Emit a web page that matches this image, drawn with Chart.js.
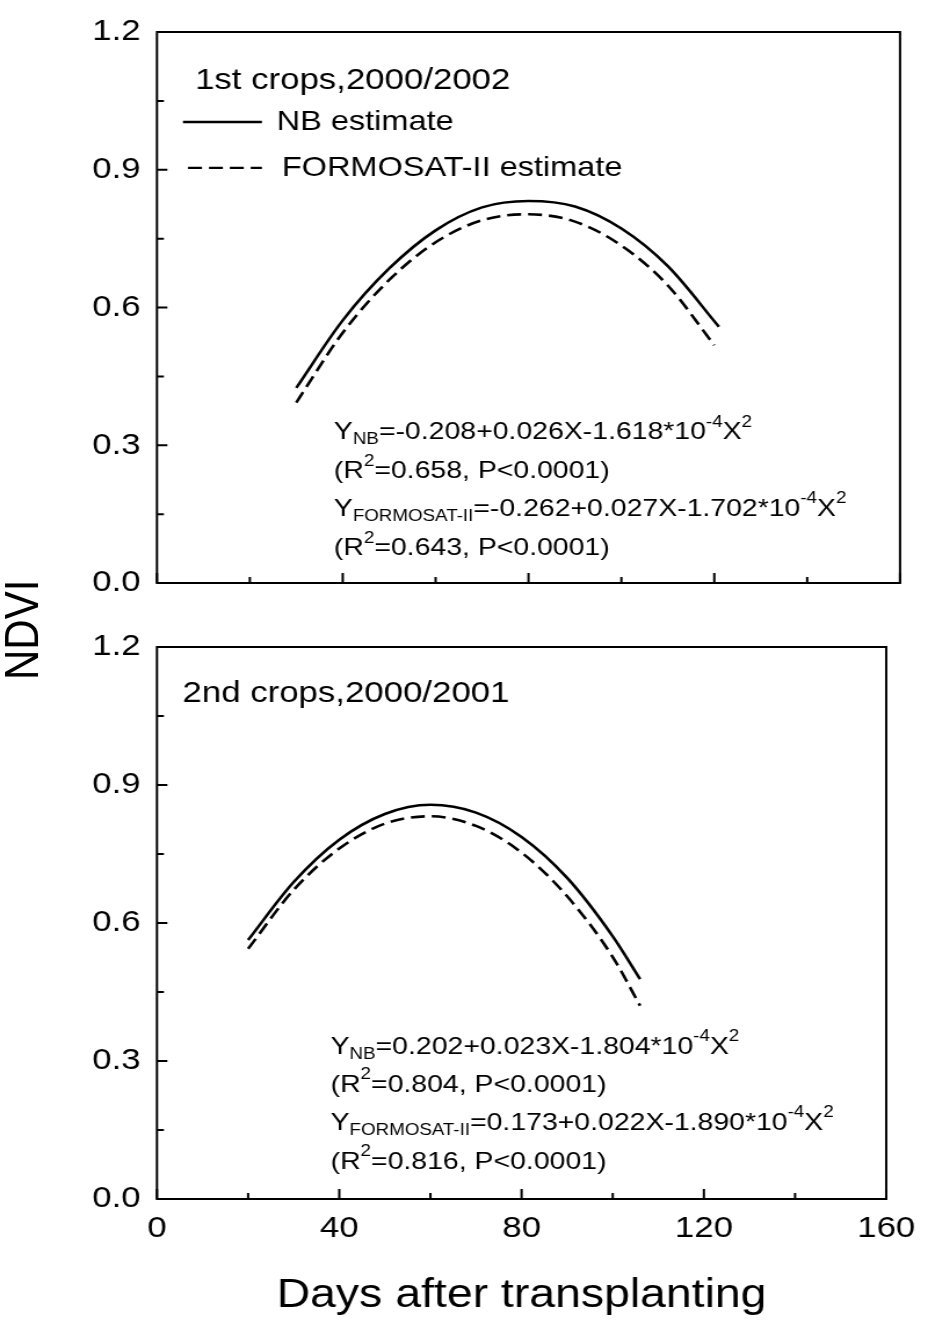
<!DOCTYPE html>
<html>
<head>
<meta charset="utf-8">
<script src="https://cdn.jsdelivr.net/npm/chart.js@4.4.1/dist/chart.umd.min.js"></script>
<style>
  body { margin: 0; background: #fff; }
  #wrap { position: relative; width: 801px; height: 1326px; transform: scaleX(1.16); transform-origin: 0 0;
          font-family: "Liberation Sans", Arial, sans-serif; }
  #c1 { position: absolute; left: 0; top: 0; }
  #c2 { position: absolute; left: 0; top: 615px; }
  #ylab { position: absolute; left: -31px; top: 605px; width: 100px; text-align: center;
          font-size: 42px; line-height: 50px; transform: rotate(-90deg); }
</style>
</head>
<body>
<div id="wrap">
  <canvas id="c1" width="801" height="615"></canvas>
  <canvas id="c2" width="801" height="711"></canvas>
  <div id="ylab">NDVI</div>
</div>
<script>
// 1st crops (top panel)
const days1NB = [30, 40, 50, 60, 70, 80, 90, 100, 110, 121];
const ndvi1NB = [0.425, 0.572, 0.685, 0.768, 0.818, 0.832, 0.82, 0.772, 0.69, 0.558];
const days1FS = [30, 40, 50, 60, 70, 80, 90, 100, 110, 120];
const ndvi1FS = [0.393, 0.545, 0.66, 0.742, 0.79, 0.803, 0.787, 0.735, 0.648, 0.518];

// 2nd crops (bottom panel)
const days2NB = [20, 30, 40, 50, 60, 70, 80, 90, 100, 106];
const ndvi2NB = [0.563, 0.689, 0.781, 0.837, 0.857, 0.84, 0.787, 0.698, 0.571, 0.478];
const days2FS = [20, 30, 40, 50, 60, 70, 80, 90, 100, 106];
const ndvi2FS = [0.544, 0.672, 0.762, 0.816, 0.832, 0.811, 0.753, 0.658, 0.526, 0.42];

// axes
const xMajor = [0, 40, 80, 120, 160];
const xMinor = [20, 60, 100, 140];
const yMajor = [0, 0.3, 0.6, 0.9, 1.2];
const yMinor = [0.15, 0.45, 0.75, 1.05];

const seriesNames = ["NB estimate", "FORMOSAT-II estimate"];
const panelLabels = ["1st crops,2000/2002", "2nd crops,2000/2001"];

// equations: [text, shift] shift 0 normal, -1 subscript, 1 superscript
const eq1 = [
  [["Y", 0], ["NB", -1], ["=-0.208+0.026X-1.618*10", 0], ["-4", 1], ["X", 0], ["2", 1]],
  [["(R", 0], ["2", 1], ["=0.658, P<0.0001)", 0]],
  [["Y", 0], ["FORMOSAT-II", -1], ["=-0.262+0.027X-1.702*10", 0], ["-4", 1], ["X", 0], ["2", 1]],
  [["(R", 0], ["2", 1], ["=0.643, P<0.0001)", 0]]
];
const eq2 = [
  [["Y", 0], ["NB", -1], ["=0.202+0.023X-1.804*10", 0], ["-4", 1], ["X", 0], ["2", 1]],
  [["(R", 0], ["2", 1], ["=0.804, P<0.0001)", 0]],
  [["Y", 0], ["FORMOSAT-II", -1], ["=0.173+0.022X-1.890*10", 0], ["-4", 1], ["X", 0], ["2", 1]],
  [["(R", 0], ["2", 1], ["=0.816, P<0.0001)", 0]]
];

const FONT = '"Liberation Sans", Arial, sans-serif';
Chart.defaults.font.family = FONT;
Chart.defaults.color = "#000";

const pts = (xs, ys) => xs.map((x, i) => ({ x, y: ys[i] }));

function drawRich(ctx, parts, x, y, size) {
  let cx = x;
  parts.forEach(([t, s]) => {
    const fs = s === 0 ? size : size * 0.66;
    ctx.font = fs + "px " + FONT;
    const dy = s === -1 ? size * 0.3 : s === 1 ? -size * 0.42 : 0;
    ctx.fillText(t, cx, y + dy);
    cx += ctx.measureText(t).width;
  });
}

const frame = {
  id: "frame",
  afterDatasetsDraw(chart, args, opts) {
    const { ctx, chartArea: a, scales: { x, y } } = chart;
    ctx.save();
    ctx.strokeStyle = "#000";
    ctx.lineWidth = 2;
    ctx.strokeRect(a.left, a.top, a.right - a.left, a.bottom - a.top);
    ctx.beginPath();
    xMajor.forEach(v => { const p = x.getPixelForValue(v); ctx.moveTo(p, a.bottom); ctx.lineTo(p, a.bottom - 10); });
    xMinor.forEach(v => { const p = x.getPixelForValue(v); ctx.moveTo(p, a.bottom); ctx.lineTo(p, a.bottom - 6); });
    yMajor.forEach(v => { const p = y.getPixelForValue(v); ctx.moveTo(a.left, p); ctx.lineTo(a.left + 9, p); });
    yMinor.forEach(v => { const p = y.getPixelForValue(v); ctx.moveTo(a.left, p); ctx.lineTo(a.left + 6, p); });
    ctx.stroke();

    ctx.fillStyle = "#000";
    ctx.textBaseline = "middle";
    ctx.font = "30px " + FONT;
    ctx.fillText(opts.label, x.getPixelForValue(opts.labelAt[0]), y.getPixelForValue(opts.labelAt[1]));

    if (opts.legend) {
      ctx.font = "28px " + FONT;
      const l0 = x.getPixelForValue(5.6), l1 = x.getPixelForValue(22.6);
      let py = y.getPixelForValue(1.004);
      ctx.lineWidth = 2.4;
      ctx.beginPath(); ctx.moveTo(l0, py); ctx.lineTo(l1, py); ctx.stroke();
      ctx.fillText(seriesNames[0], x.getPixelForValue(25.8), py);
      py = y.getPixelForValue(0.904);
      ctx.setLineDash([12, 6]);
      ctx.beginPath(); ctx.moveTo(x.getPixelForValue(6.7), py); ctx.lineTo(l1, py); ctx.stroke();
      ctx.setLineDash([]);
      ctx.fillText(seriesNames[1], x.getPixelForValue(26.9), py);
    }

    opts.eq.forEach((line, i) => {
      drawRich(ctx, line, x.getPixelForValue(38.1), y.getPixelForValue(opts.eqY[i]), 24.5);
    });
    ctx.restore();
  }
};

function makeChart(id, nbD, nbV, fsD, fsV, showX, pad, xHeight, opts) {
  const chart = new Chart(document.getElementById(id), {
    type: "line",
    data: {
      datasets: [
        { label: seriesNames[0], data: pts(nbD, nbV), borderColor: "#000", borderWidth: 2.6,
          pointRadius: 0, cubicInterpolationMode: "monotone", fill: false },
        { label: seriesNames[1], data: pts(fsD, fsV), borderColor: "#000", borderWidth: 2.6,
          borderDash: [12, 6], pointRadius: 0, cubicInterpolationMode: "monotone", fill: false }
      ]
    },
    options: {
      responsive: false,
      animation: false,
      layout: { padding: pad, autoPadding: false },
      plugins: { legend: { display: false }, tooltip: { enabled: false }, frame: opts },
      scales: {
        x: {
          type: "linear", min: 0, max: 160,
          afterFit: s => { s.height = s.chart.$xh; },
          grid: { display: false, drawTicks: false }, border: { display: false },
          ticks: { display: showX, stepSize: 40, padding: 12, font: { size: 30 }, maxRotation: 0 },
          title: { display: showX, text: "Days after transplanting", font: { size: 40 }, padding: { bottom: 6 } }
        },
        y: {
          min: 0, max: 1.2,
          afterFit: s => { s.width = s.chart.$yw; },
          grid: { display: false, drawTicks: false }, border: { display: false },
          ticks: { stepSize: 0.3, padding: 14, font: { size: 30 }, callback: v => v.toFixed(1) }
        }
      }
    },
    plugins: [{ id: "sizes", beforeInit(c) { c.$xh = xHeight; c.$yw = 135.3; } }, frame]
  });
  return chart;
}

// nudge the layout so the plot box lands exactly on the wanted pixels
function pinArea(chart, left, top, right, bottom) {
  for (let k = 0; k < 3; k++) {
    const a = chart.chartArea;
    const p = chart.options.layout.padding;
    chart.$yw += left - a.left;
    p.top += top - a.top;
    p.right += a.right - right;
    chart.$xh += a.bottom - bottom;
    chart.update("none");
  }
}

const c1 = makeChart("c1", days1NB, ndvi1NB, days1FS, ndvi1FS, false,
  { top: 28, right: 25.1, bottom: 0, left: 0 }, 19,
  { label: panelLabels[0], labelAt: [8.2, 1.094], legend: true, eq: eq1, eqY: [0.328, 0.243, 0.161, 0.075] });
pinArea(c1, 135.3, 28, 775.9, 596);

const c2 = makeChart("c2", days2NB, ndvi2NB, days2FS, ndvi2FS, true,
  { top: 17, right: 25.1, bottom: 0, left: 0 }, 127,
  { label: panelLabels[1], labelAt: [5.6, 1.098], legend: false, eq: eq2, eqY: [0.33, 0.248, 0.165, 0.08] });
pinArea(c2, 135.3, 17, 775.9, 584);
</script>
</body>
</html>
